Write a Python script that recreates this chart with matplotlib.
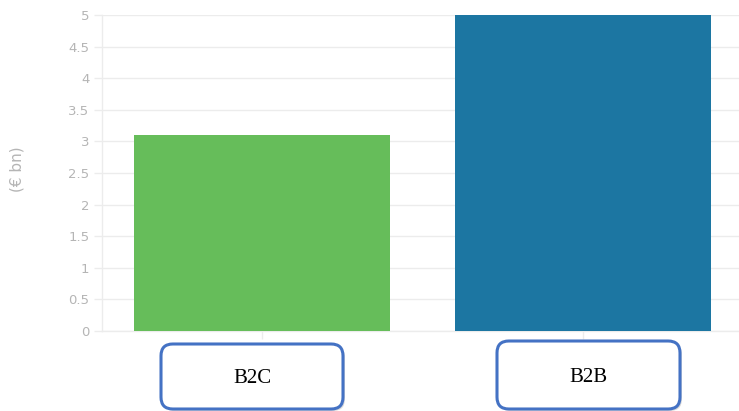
import matplotlib
matplotlib.use("Agg")
import matplotlib.pyplot as plt
from matplotlib.patches import FancyBboxPatch
import numpy as np

segments = ["B2C", "B2B"]
market_size = [3.1, 5.0]   # € bn
y_ticks = [0, 0.5, 1, 1.5, 2, 2.5, 3, 3.5, 4, 4.5, 5]

BAR_COLOURS = ["#66bd5a", "#1c76a2"]
GRID = "#ececec"
TICK_TEXT = "#b5b5b5"
BOX_EDGE = "#4472c4"

W, H = 739, 411
fig = plt.figure(figsize=(W / 100, H / 100), dpi=100)
ax = fig.add_axes([102 / W, (H - 331) / H, (743 - 102) / W, (331 - 15) / H])

x = np.arange(len(segments))
ax.bar(x, market_size, width=0.8, color=BAR_COLOURS, edgecolor="none", zorder=3)

ax.set_xlim(-0.5, len(segments) - 0.5)
ax.set_ylim(0, 5)
ax.set_yticks(y_ticks)
ax.set_yticklabels([f"{t:g}" for t in y_ticks])
ax.set_xticks(x)
ax.set_xticklabels([])
ax.tick_params(axis="y", colors=GRID, labelcolor=TICK_TEXT, labelsize=9.5, length=6, width=1, pad=3)
ax.tick_params(axis="x", colors=GRID, length=6, width=1)
ax.grid(axis="y", color=GRID, linewidth=1, zorder=0)
for side in ["top", "right"]:
    ax.spines[side].set_visible(False)
for side in ["left", "bottom"]:
    ax.spines[side].set_color(GRID)
    ax.spines[side].set_linewidth(1)

fig.text(17 / W, 1 - 169 / H, "(€ bn)", rotation=90, ha="center", va="center",
         color=TICK_TEXT, fontsize=11)

# rounded label boxes under each bar
boxes = [(161, 344, 343, 409), (497, 341, 680, 409)]
for (x0, y0, x1, y1), name in zip(boxes, segments):
    bx, by = x0 / W, (H - y1) / H
    bw, bh = (x1 - x0) / W, (y1 - y0) / H
    shadow = FancyBboxPatch((bx + 2 / W, by - 2 / H), bw, bh,
                            boxstyle="round,pad=0,rounding_size=0.016",
                            mutation_aspect=W / H,
                            transform=fig.transFigure, facecolor="#00000022",
                            edgecolor="none", zorder=4)
    box = FancyBboxPatch((bx, by), bw, bh,
                         boxstyle="round,pad=0,rounding_size=0.016",
                         mutation_aspect=W / H,
                         transform=fig.transFigure, facecolor="white",
                         edgecolor=BOX_EDGE, linewidth=2.2, zorder=5)
    fig.patches.extend([shadow, box])
    fig.text(bx + bw / 2, by + bh / 2 - 0.006, name, ha="center", va="center",
             family="Liberation Serif", fontsize=15, color="black", zorder=6)

fig.savefig("out.png", dpi=100)
